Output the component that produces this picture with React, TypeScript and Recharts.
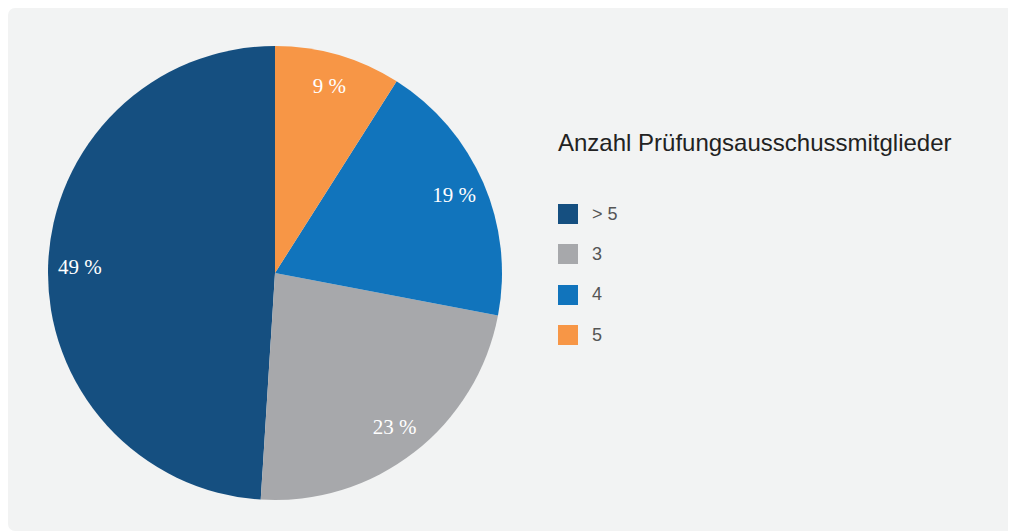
import { PieChart, Pie, Cell, Legend } from 'recharts';

const categories = ['> 5', '3', '4', '5'];
const shares = [49, 23, 19, 9];
const colors = ['#154f80', '#a7a8ab', '#1174bc', '#f79646'];
const legendTitle = 'Anzahl Prüfungsausschussmitglieder';

const data = categories.map((name, i) => ({ name, value: shares[i] }));

const RADIAN = Math.PI / 180;

const renderLabel = (props: any) => {
  const { cx, cy, midAngle, outerRadius, value } = props;
  const r = outerRadius * 0.86;
  const x = cx + r * Math.cos(-midAngle * RADIAN);
  const y = cy + r * Math.sin(-midAngle * RADIAN);
  return (
    <text
      x={x} y={y} fill="#ffffff" textAnchor="middle" dominantBaseline="central"
      fontFamily="'Liberation Serif', serif" fontSize={21}
    >
      {`${value} %`}
    </text>
  );
};

const renderLegend = () => (
  <div style={{ fontFamily: "'Liberation Sans', Arial, sans-serif" }}>
    <div style={{ fontSize: 24, color: '#222', lineHeight: '28px', marginBottom: 37, whiteSpace: 'nowrap' }}>{legendTitle}</div>
    {categories.map((c, i) => (
      <div key={c} style={{ display: 'flex', alignItems: 'center', height: 40.3 }}>
        <span style={{ display: 'inline-block', width: 20, height: 20, background: colors[i], marginRight: 14 }} />
        <span style={{ fontSize: 18, color: '#555' }}>{c}</span>
      </div>
    ))}
  </div>
);

export default function App() {
  return (
    <div style={{ width: 1008, height: 523, background: '#f2f3f3', borderRadius: 7, position: 'relative' }}>
      <PieChart width={1008} height={523} margin={{ top: 0, right: 0, bottom: 0, left: 0 }}>
        <Pie
          data={data} dataKey="value" nameKey="name"
          cx={267} cy={265} outerRadius={227}
          startAngle={90} endAngle={450}
          stroke="none" label={renderLabel} labelLine={false}
          isAnimationActive={false}
        >
          {data.map((d, i) => <Cell key={d.name} fill={colors[i]} />)}
        </Pie>
        <Legend
          content={renderLegend}
          wrapperStyle={{ position: 'absolute', left: 550, top: 121, width: 440 }}
        />
      </PieChart>
    </div>
  );
}
